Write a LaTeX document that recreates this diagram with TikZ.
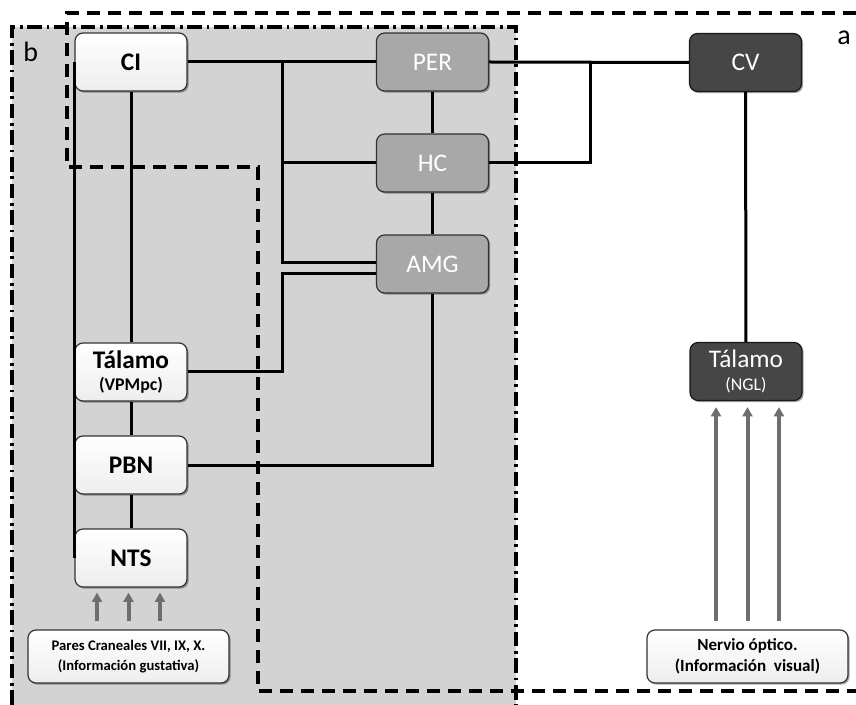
\documentclass[tikz,border=0pt]{standalone}
\usepackage{fontspec}
\setmainfont{Carlito}
\usetikzlibrary{shadows,arrows.meta}
\definecolor{regiongray}{RGB}{211,211,211}
\definecolor{boxgray}{RGB}{168,168,168}
\definecolor{boxdark}{RGB}{70,70,70}
\definecolor{arrowgray}{RGB}{110,110,110}
\tikzset{
  box/.style={rounded corners=6pt, draw=black!80, line width=0.9pt,
    minimum width=84pt, minimum height=43.5pt, inner sep=0pt, align=center,
    drop shadow={shadow xshift=1.2pt, shadow yshift=-1.2pt, opacity=0.35, fill=black}},
  whitebox/.style={box, top color=white, bottom color=black!7,
    font=\fontsize{19}{20}\selectfont\bfseries},
  graybox/.style={box, fill=boxgray, text=white, font=\fontsize{19}{20}\selectfont},
  darkbox/.style={box, fill=boxdark, draw=black!90, text=white, font=\fontsize{19}{20}\selectfont},
  infobox/.style={box, minimum width=150.75pt, minimum height=39.75pt, top color=white, bottom color=black!7},
  conn/.style={line width=2.25pt, black},
  arr/.style={line width=3pt, arrowgray, -{Triangle[length=7pt,width=7.5pt]}},
  dashline/.style={line width=3pt, dash pattern=on 9.75pt off 6pt},
  dashdotline/.style={line width=3pt, dash pattern=on 11pt off 3.5pt on 2pt off 3.5pt},
  regionlabel/.style={anchor=base west, inner sep=0pt, font=\fontsize{21}{23}\selectfont}
}
\begin{document}
\begin{tikzpicture}[x=0.75pt,y=-0.75pt]
\useasboundingbox (0,0) rectangle (856,705);
% region b (gray)
\fill[regiongray] (12,27) rectangle (516,705);
\draw[dashdotline] (12,705) -- (12,27) -- (516,27) -- (516,705);
% region a (dashed)
\draw[dashline] (856,13) -- (67,13) -- (67,167) -- (258,167) -- (258,691) -- (856,691);
\node[regionlabel] (lb) at (23,62) {b};
\node[regionlabel] (la) at (837,45) {a};

% nodes
\node[whitebox] (CI) at (131,62) {CI};
\node[graybox] (PER) at (432.5,62) {PER};
\node[graybox] (HC) at (432.5,163) {HC};
\node[graybox] (AMG) at (432.5,264) {AMG};
\node[darkbox] (CV) at (745.5,62.5) {CV};
\node[darkbox] (TN) at (746,371.5) {Tálamo\\[-3pt]{\fontsize{13.4}{14}\selectfont (NGL)}};
\node[whitebox] (TV) at (131,372) {Tálamo\\[-3pt]{\fontsize{13.4}{14}\selectfont (VPMpc)}};
\node[whitebox] (PBN) at (131,465) {PBN};
\node[whitebox] (NTS) at (131,558) {NTS};
\node[infobox, font=\fontsize{11}{14.5}\selectfont\bfseries] (PC) at (128.5,656.5) {Pares Craneales VII, IX, X.\\(Información gustativa)};
\node[infobox, font=\fontsize{12.8}{16}\selectfont\bfseries] (NO) at (747.5,656.5) {Nervio óptico.\\(Información~~visual)};

% connectors
\coordinate (j1) at (282,62);
\coordinate (j2) at (282,274);
\coordinate (j3) at (590,62);
\draw[conn] (CI.east) -- (PER.west);
\draw[conn] (j1) |- (HC.west);
\draw[conn] (j1) |- ([yshift=0.75pt]AMG.west);
\draw[conn] (TV.east) -| (j2) -- (j2 -| AMG.west);
\draw[conn] (PER) -- (HC);
\draw[conn] (HC) -- (AMG);
\draw[conn] (AMG.south) |- (PBN.east);
\draw[conn] (CI) -- (TV);
\draw[conn] (TV) -- (PBN);
\draw[conn] (PBN) -- (NTS);
\draw[conn] (CI.west) -- (NTS.west);
\draw[conn] (PER.east) -- (CV.west);
\draw[conn] (j3) |- (HC.east);
\draw[conn] (CV) -- (TN);

% arrows
\foreach \dx in {-23.6pt,0pt,23.6pt}{
  \draw[arr, shorten <=6pt, shorten >=3.75pt] ([xshift=\dx]PC.north) -- ([xshift=\dx]PC.north |- NTS.south);
  \draw[arr, shorten <=6pt, shorten >=4.5pt] ([xshift=\dx]NO.north) -- ([xshift=\dx]NO.north |- TN.south);
}
\end{tikzpicture}
\end{document}
